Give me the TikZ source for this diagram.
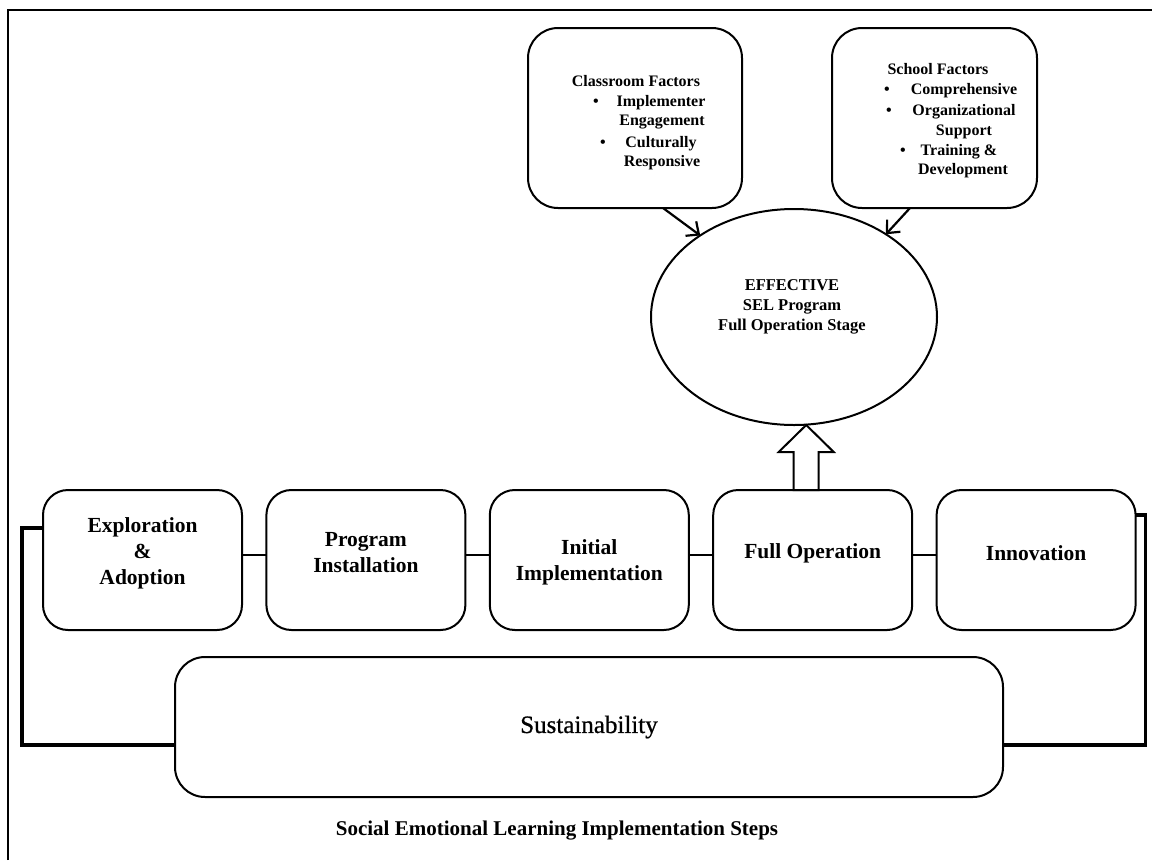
\documentclass[tikz,border=0pt]{standalone}
\usepackage{fontspec}
\setmainfont{Liberation Serif}
\newfontfamily\heavyserif[FakeBold=0.8]{Liberation Serif}
\usetikzlibrary{shapes.geometric,arrows.meta,calc}

\tikzset{
  frameline/.style={line width=2pt},
  stagebox/.style={draw, line width=2pt, rounded corners=25pt,
    minimum width=199pt, minimum height=140pt, inner sep=0pt, outer sep=0pt},
  factorbox/.style={draw, line width=2pt, rounded corners=30pt,
    minimum height=180pt, inner sep=0pt, outer sep=0pt},
  stagetext/.style={font=\fontsize{21.5}{26}\selectfont\bfseries, align=center, inner sep=0pt},
  factortext/.style={font=\fontsize{16}{20}\selectfont\bfseries, anchor=base, inner sep=0pt},
  link/.style={line width=2pt},
  loopline/.style={line width=3.5pt, line join=miter},
  pointer/.style={line width=2.2pt, -{Straight Barb[length=10pt,width=18pt,line width=2.2pt]}},
  blockarrow/.style={line width=2pt, fill=white, line join=miter},
}

\begin{document}
\begin{tikzpicture}[x=1pt,y=-1pt]
\useasboundingbox (0,0) rectangle (1152,860);

% page frame (top and left edges)
\draw[frameline] (7.5,860) -- (7.5,10) -- (1152,10);

% factor boxes
\node[factorbox, minimum width=214pt] (cf) at (635,118) {};
\node[factortext] (cf-title) at ($(cf.center)+(1,-32)$) {Classroom Factors};
\node[factortext] (cf-b1) at ($(cf.center)+(-39,-12)$) {\textbullet};
\node[factortext] (cf-l1) at ($(cf.center)+(26,-12)$) {Implementer};
\node[factortext] (cf-l2) at ($(cf.center)+(27,7)$) {Engagement};
\node[factortext] (cf-b2) at ($(cf.center)+(-32,29)$) {\textbullet};
\node[factortext] (cf-l3) at ($(cf.center)+(26,29)$) {Culturally};
\node[factortext] (cf-l4) at ($(cf.center)+(27,48)$) {Responsive};

\node[factorbox, minimum width=205pt] (sf) at (934.5,118) {};
\node[factortext] (sf-title) at ($(sf.center)+(3.5,-44)$) {School Factors};
\node[factortext] (sf-b1) at ($(sf.center)+(-47.5,-24)$) {\textbullet};
\node[factortext] (sf-l1) at ($(sf.center)+(29.5,-24)$) {Comprehensive};
\node[factortext] (sf-b2) at ($(sf.center)+(-45.5,-3)$) {\textbullet};
\node[factortext] (sf-l2) at ($(sf.center)+(29.5,-3)$) {Organizational};
\node[factortext] (sf-l3) at ($(sf.center)+(29.5,17)$) {Support};
\node[factortext] (sf-b3) at ($(sf.center)+(-31.5,37)$) {\textbullet};
\node[factortext] (sf-l4) at ($(sf.center)+(24.5,37)$) {Training \&};
\node[factortext] (sf-l5) at ($(sf.center)+(28.5,56)$) {Development};

% goal ellipse
\node[draw, ellipse, line width=2pt, minimum width=286pt, minimum height=216pt,
      inner sep=0pt, outer sep=0pt] (eff) at (794,317) {};
\node[font=\fontsize{16.5}{20}\selectfont\bfseries, align=center, inner sep=0pt]
  (eff-text) at ([xshift=-2pt,yshift=10pt]eff.center)
  {EFFECTIVE\\SEL Program\\Full Operation Stage};

\draw[pointer] ([xshift=28pt]cf.south) -- (eff.139);
\draw[pointer] ([xshift=-24.5pt]sf.south) -- (eff.42);

% implementation stages
\node[stagebox] (ea) at (142.5,560) {};
\node[stagebox] (pi) at (365.9,560) {};
\node[stagebox] (ii) at (589.3,560) {};
\node[stagebox] (fo) at (812.7,560) {};
\node[stagebox] (in) at (1036.1,560) {};

\node[stagetext] (ea-t) at ([yshift=7pt]ea.center) {Exploration\\\&\\Adoption};
\node[stagetext] (pi-t) at ([yshift=7pt]pi.center) {Program\\Installation};
\node[stagetext] (ii-t) at ([yshift=-2.5pt]ii.center) {Initial\\Implementation};
\node[stagetext] (fo-t) at ([yshift=7pt]fo.center) {Full Operation};
\node[stagetext] (in-t) at ([yshift=7pt]in.center) {Innovation};

\draw[link] ([yshift=5pt]ea.east) -- ([yshift=5pt]pi.west);
\draw[link] ([yshift=5pt]pi.east) -- ([yshift=5pt]ii.west);
\draw[link] ([yshift=5pt]ii.east) -- ([yshift=5pt]fo.west);
\draw[link] ([yshift=5pt]fo.east) -- ([yshift=5pt]in.west);

% hollow arrow from Full Operation up to the ellipse
\coordinate (tip) at ([xshift=-6.5pt]fo.north |- eff.south);
\draw[blockarrow] (tip) -- ++(27.5,27) -- ++(-15,0) -- ([xshift=6pt]fo.north)
  -- ([xshift=-19pt]fo.north) -- ++(0,-38) -- ++(-15,0) -- cycle;

% sustainability base
\node[draw, line width=2pt, rounded corners=30pt, minimum width=828pt, minimum height=140pt,
      inner sep=0pt, outer sep=0pt, font=\heavyserif\fontsize{25}{30}\selectfont]
  (sus) at (589,727) {Sustainability};

\draw[loopline] ([yshift=32pt]ea.west) -- ++(-21,0) |- ([yshift=-18pt]sus.west);
\draw[loopline] ([yshift=45pt]in.east) -- ++(10,0) |- ([yshift=-18pt]sus.east);

% caption
\node[font=\fontsize{21}{25}\selectfont\bfseries, inner sep=0pt] (caption) at (557,831)
  {Social Emotional Learning Implementation Steps};
\end{tikzpicture}
\end{document}
